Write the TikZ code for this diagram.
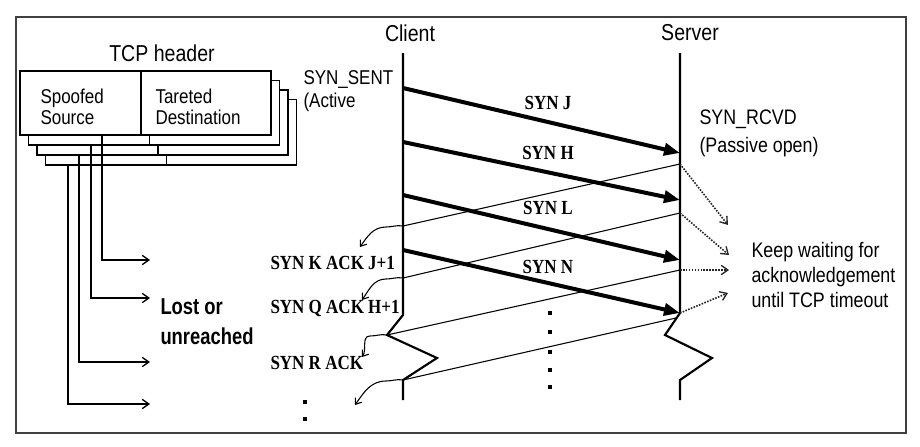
\documentclass[tikz,border=0pt]{standalone}
\usepackage{fontspec}
\setmainfont[FakeStretch=0.85]{Liberation Sans}
\newfontfamily\synfont[FakeStretch=0.85]{Liberation Serif}
\newfontfamily\lostfont[FakeStretch=0.8]{Liberation Sans}
\usetikzlibrary{arrows.meta}

\tikzset{every picture/.style={line width=0.75pt}}
\tikzset{
  hdrbox/.style={draw, line width=1pt, fill=white},
  lifeline/.style={line width=1.6pt, line join=miter},
  synmsg/.style={line width=3pt, -{Triangle[length=12pt,width=9pt]}},
  ackmsg/.style={line width=0.8pt, -{Straight Barb[length=4pt,width=6pt]}},
  lostarr/.style={line width=1pt, -{Straight Barb[length=5pt,width=7pt]}},
  waitarr/.style={line width=1.2pt, dash pattern=on 1.2pt off 1pt, draw=black!85, -{Straight Barb[length=5pt,width=7pt,line width=1pt]}},
  synlbl/.style={font=\synfont\bfseries\fontsize{15}{17}\selectfont, inner sep=0.75pt},
  dotmark/.style={fill=black, minimum size=3pt, inner sep=0pt},
}

\begin{document}
\begin{tikzpicture}[x=0.75pt,y=0.75pt,yscale=-1,xscale=1]
\useasboundingbox (0,0) rectangle (920,446);

%Shape: Frame
\draw [line width=1.2pt, black!75] (16,17) rectangle (906,433);

%Shape: TCP header stack
\foreach \k in {3,2,1,0} {
  \draw [hdrbox] ({20+8.5*\k},{71+9.5*\k}) rectangle ({271+8.5*\k},{135+10*\k});
  \draw [line width=1pt] ({141+8.5*\k},{71+9.5*\k}) -- ({141+8.5*\k},{135+10*\k});
}
\coordinate (src0) at (102,135);
\coordinate (src1) at (91,145);
\coordinate (src2) at (79,155);
\coordinate (src3) at (68,165);
\coordinate (hit0) at (150,260);
\coordinate (hit1) at (150,298);
\coordinate (hit2) at (150,362);
\coordinate (hit3) at (150,404);
\foreach \k in {0,1,2,3} {
  \draw [lostarr] (src\k) |- (hit\k);
}

%Shape: Client lifeline
\coordinate (ctop) at (403,53);
\coordinate (cz1) at (403,315);
\coordinate (cz2) at (387,335);
\coordinate (cz3) at (437,358);
\coordinate (cz4) at (403,380);
\coordinate (cbot) at (403,400);
\draw [lifeline] (ctop) -- (cz1) -- (cz2) -- (cz3) -- (cz4) -- (cbot);

%Shape: Server lifeline
\coordinate (stop) at (680,53);
\coordinate (sz1) at (680,313);
\coordinate (sz2) at (665,335);
\coordinate (sz3) at (712,358);
\coordinate (sz4) at (680,380);
\coordinate (sbot) at (680,400);
\draw [lifeline] (stop) -- (sz1) -- (sz2) -- (sz3) -- (sz4) -- (sbot);

%Straight Lines: SYN from client
\coordinate (cs1) at (403,88);
\coordinate (cs2) at (403,142);
\coordinate (cs3) at (403,195);
\coordinate (cs4) at (403,250);
\coordinate (sr1) at (680,153);
\coordinate (sr2) at (680,200);
\coordinate (sr3) at (680,260);
\coordinate (sr4) at (680,313);

%Straight Lines: SYN ACK from server
\coordinate (sa1) at (680,164);
\coordinate (sa2) at (680,213);
\coordinate (sa3) at (680,270);
\coordinate (sa4) at (676,318);
\coordinate (ca1) at (403,226);
\coordinate (ca2) at (403,278);
\coordinate (ca3) at (cz2);
\coordinate (ca4) at (cz4);
\coordinate (ra1) at (360,247);
\coordinate (ra2) at (362,300);
\coordinate (ra3) at (362,357);
\coordinate (ra4) at (355,405);
\foreach \k in {1,2,3,4} {
  \draw [ackmsg] (sa\k) -- (ca\k) to[out=190,in=0] ++(-17,1) to[out=180,in=305] (ra\k);
}
\foreach \k in {1,2,3,4} {
  \draw [synmsg] (cs\k) -- (sr\k);
}

%Dotted Lines: waiting
\coordinate (wt1) at (728,225);
\coordinate (wt2) at (729,255);
\coordinate (wt3) at (729,270);
\coordinate (wt4) at (728,293);
\draw [waitarr] (sa1) -- (wt1);
\draw [waitarr] (sa2) -- (wt2);
\draw [waitarr] (sa3) -- (wt3);
\draw [waitarr] (sr4) -- (wt4);

%Dots
\foreach \y [count=\i] in {313,332,352,370,387} {
  \node [dotmark] (mdot\i) at (550,\y) {};
}
\node [dotmark] (ldot1) at (305,402) {};
\node [dotmark] (ldot2) at (305,419) {};

% Text Node
\draw (410,33) node [inner sep=0.75pt][font=\fontsize{17.25}{20}\selectfont] (client) {Client};
% Text Node
\draw (690,33) node [inner sep=0.75pt][font=\fontsize{17.25}{20}\selectfont] (server) {Server};
% Text Node
\draw (162,53) node [inner sep=0.75pt][font=\fontsize{17.25}{20}\selectfont] (tcphdr) {TCP header};
% Text Node
\draw (39,107) node [anchor=west][inner sep=0.75pt][align=left][font=\fontsize{15}{15.75}\selectfont] (spoofed) {Spoofed\\Source};
% Text Node
\draw (154,107) node [anchor=west][inner sep=0.75pt][align=left][font=\fontsize{15}{15.75}\selectfont] (target) {Tareted\\Destination};
% Text Node
\draw (302,91) node [anchor=west][inner sep=0.75pt][align=left][font=\fontsize{15}{17.25}\selectfont] (synsent) {SYN\_SENT\\(Active};
% Text Node
\draw (698,133) node [anchor=west][inner sep=0.75pt][align=left][font=\fontsize{15.75}{21}\selectfont] (synrcvd) {SYN\_RCVD\\(Passive open)};
% Text Node
\draw (750,275) node [anchor=west][inner sep=0.75pt][align=left][font=\fontsize{15.75}{18.75}\selectfont] (keepwait) {Keep waiting for\\acknowledgement\\until TCP timeout};
% Text Node
\draw (159,322) node [anchor=west][inner sep=0.75pt][align=left][font=\lostfont\bfseries\fontsize{17.25}{22.5}\selectfont] (lost) {Lost or\\unreached};
% Text Node
\draw (548,103) node [synlbl] (synj) {SYN J};
\draw (548,153) node [synlbl] (synh) {SYN H};
\draw (548,208) node [synlbl] (synl) {SYN L};
\draw (548,267) node [synlbl] (synn) {SYN N};
% Text Node
\draw (269,263) node [synlbl][anchor=west] (ackj) {SYN K ACK J+1};
\draw (269,308) node [synlbl][anchor=west] (ackh) {SYN Q ACK H+1};
\draw (269,363) node [synlbl][anchor=west] (ackr) {SYN R ACK};
\end{tikzpicture}
\end{document}
